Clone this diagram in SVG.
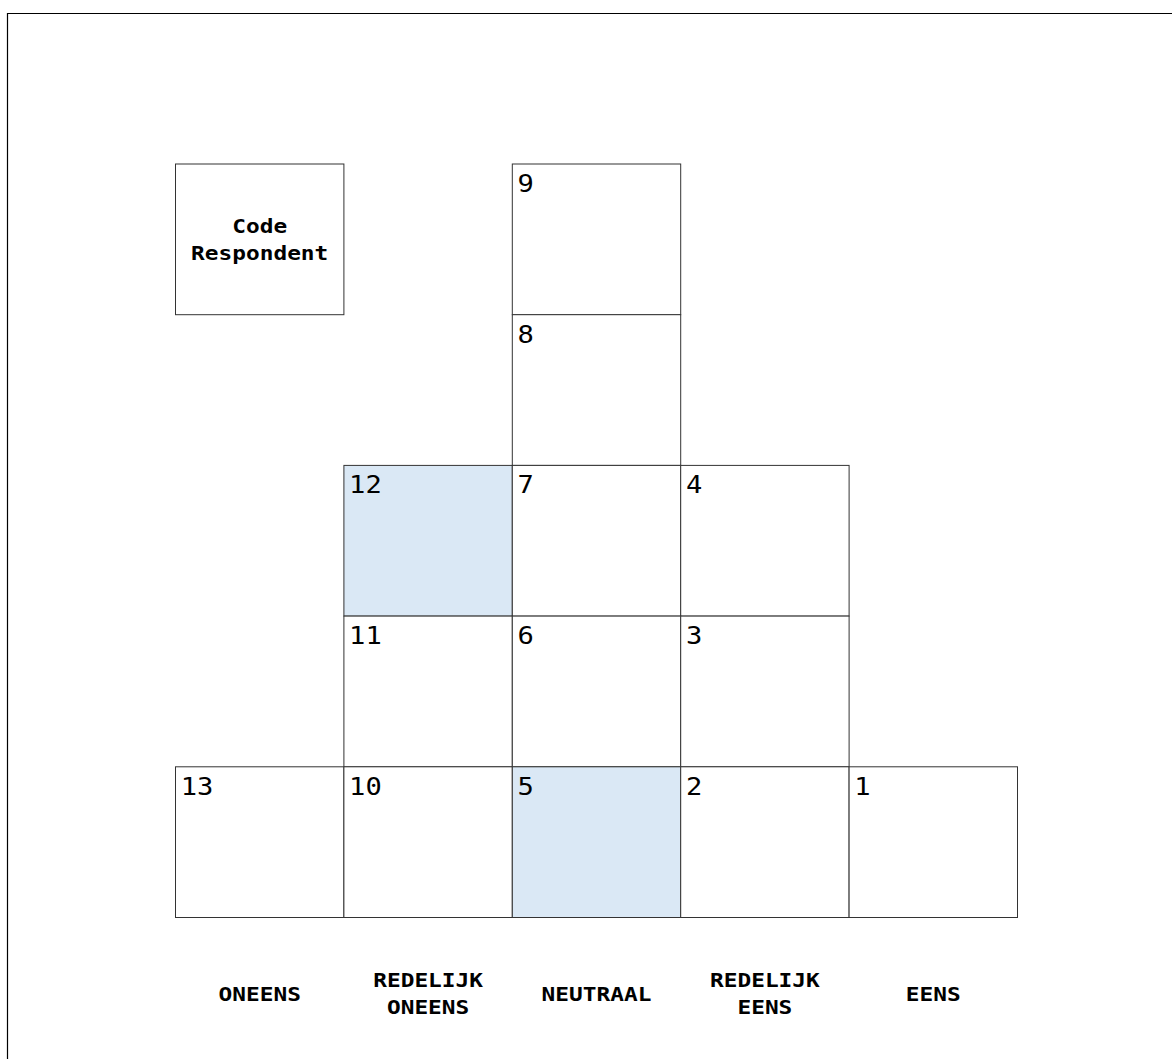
<svg xmlns="http://www.w3.org/2000/svg" width="1172" height="1059" viewBox="0 0 1172 1059">
<style>
.cell{fill:#ffffff;stroke:#333333;stroke-width:1}
.hl{fill:#dae8f5}
.num{font-family:"DejaVu Sans Mono",monospace;font-size:24px;fill:#000}
.lbl{font-family:"DejaVu Sans Mono",monospace;font-size:20px;font-weight:bold;fill:#000;text-anchor:middle}
</style>
<rect x="0" y="0" width="1172" height="1059" fill="#ffffff"/>
<path d="M7.5 1059 V13.5 H1172" fill="none" stroke="#000" stroke-width="1.2"/>
<g id="code"><rect class="cell" x="175.5" y="164" width="168.4" height="150.7"/><text class="lbl" transform="translate(259.7 233.3) scale(1.14 1)">Code</text><text class="lbl" transform="translate(259.7 260) scale(1.14 1)">Respondent</text></g>
<g id="n9"><rect class="cell" x="512.3" y="164" width="168.4" height="150.7"/><text class="num" transform="translate(517.5 192) scale(1.13 1)">9</text></g>
<g id="n8"><rect class="cell" x="512.3" y="314.7" width="168.4" height="150.7"/><text class="num" transform="translate(517.5 342.7) scale(1.13 1)">8</text></g>
<g id="n12"><rect class="cell hl" x="343.9" y="465.4" width="168.4" height="150.7"/><text class="num" transform="translate(349.1 493.4) scale(1.13 1)">12</text></g>
<g id="n7"><rect class="cell" x="512.3" y="465.4" width="168.4" height="150.7"/><text class="num" transform="translate(517.5 493.4) scale(1.13 1)">7</text></g>
<g id="n4"><rect class="cell" x="680.7" y="465.4" width="168.4" height="150.7"/><text class="num" transform="translate(685.9 493.4) scale(1.13 1)">4</text></g>
<g id="n11"><rect class="cell" x="343.9" y="616.1" width="168.4" height="150.7"/><text class="num" transform="translate(349.1 644.1) scale(1.13 1)">11</text></g>
<g id="n6"><rect class="cell" x="512.3" y="616.1" width="168.4" height="150.7"/><text class="num" transform="translate(517.5 644.1) scale(1.13 1)">6</text></g>
<g id="n3"><rect class="cell" x="680.7" y="616.1" width="168.4" height="150.7"/><text class="num" transform="translate(685.9 644.1) scale(1.13 1)">3</text></g>
<g id="n13"><rect class="cell" x="175.5" y="766.8" width="168.4" height="150.7"/><text class="num" transform="translate(180.7 794.8) scale(1.13 1)">13</text></g>
<g id="n10"><rect class="cell" x="343.9" y="766.8" width="168.4" height="150.7"/><text class="num" transform="translate(349.1 794.8) scale(1.13 1)">10</text></g>
<g id="n5"><rect class="cell hl" x="512.3" y="766.8" width="168.4" height="150.7"/><text class="num" transform="translate(517.5 794.8) scale(1.13 1)">5</text></g>
<g id="n2"><rect class="cell" x="680.7" y="766.8" width="168.4" height="150.7"/><text class="num" transform="translate(685.9 794.8) scale(1.13 1)">2</text></g>
<g id="n1"><rect class="cell" x="849.1" y="766.8" width="168.4" height="150.7"/><text class="num" transform="translate(854.3 794.8) scale(1.13 1)">1</text></g>
<g id="labels">
<text class="lbl" transform="translate(259.7 1000.7) scale(1.14 1)">ONEENS</text>
<text class="lbl" transform="translate(428.1 987.3) scale(1.14 1)">REDELIJK</text><text class="lbl" transform="translate(428.1 1014.3) scale(1.14 1)">ONEENS</text>
<text class="lbl" transform="translate(596.5 1000.7) scale(1.14 1)">NEUTRAAL</text>
<text class="lbl" transform="translate(764.9 987.3) scale(1.14 1)">REDELIJK</text><text class="lbl" transform="translate(764.9 1014.3) scale(1.14 1)">EENS</text>
<text class="lbl" transform="translate(933.3 1000.7) scale(1.14 1)">EENS</text>
</g>
<g id="connectors"/>
</svg>
